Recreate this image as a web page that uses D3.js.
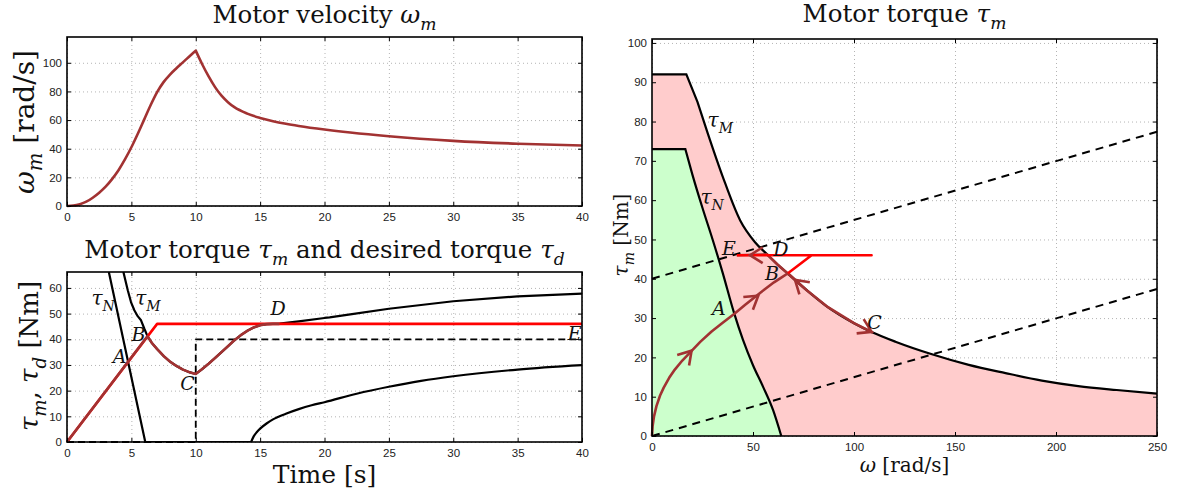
<!DOCTYPE html>
<html>
<head>
<meta charset="utf-8">
<script src="https://cdn.jsdelivr.net/npm/d3@7"></script>
<style>
body { margin: 0; background: #fff; }
svg { display: block; }
</style>
</head>
<body>
<svg id="fig" width="1178" height="498"></svg>
<script>
// ---- data ----
// top left: motor velocity vs time
const velT = [0, 0.5, 1, 1.5, 2, 2.5, 3, 3.5, 4, 4.5, 5, 5.5, 6, 6.5, 7, 7.5, 8, 8.5, 9, 9.5, 10,
  10.5, 11, 11.5, 12, 12.5, 13, 14, 15, 16, 17, 18, 20, 22, 25, 30, 35, 40];
const velW = [0, 0.3, 1.3, 3, 5.8, 9.3, 13.5, 18.8, 25, 32.5, 41, 50.5, 60.5, 70.5, 79.5, 86.5, 91.8, 96.2, 100.3, 104.4, 108.5,
  99, 90.5, 83, 77, 72.5, 69, 64.5, 61.5, 59.2, 57.4, 55.9, 53.4, 51.3, 48.7, 45.5, 43.5, 42.2];

// bottom left: torques vs time
const tdT = [0, 7, 40];
const tdV = [0, 46, 46];
const tmT = [0, 6.25, 6.6, 7, 7.5, 8, 8.5, 9, 9.5, 10, 10.5, 11, 11.5, 12, 12.5, 13, 13.5, 14, 14.5, 15, 15.5, 16, 16.5];
const tmV = [0, 41.2, 38.5, 36.2, 33.5, 31.3, 29.6, 28.2, 27.2, 26.5, 28.4, 30.5, 32.7, 35, 37.3, 39.6, 41.6, 43.3, 44.6, 45.5, 45.9, 46, 46];
const tauMaxT = [4.38, 4.72, 4.97, 5.23, 5.49, 5.75, 6.0, 6.25, 6.6, 7, 7.5, 8, 8.5, 9, 9.5, 10, 10.5, 11, 11.5, 12, 12.5, 13, 13.5, 14, 14.5, 15, 15.5, 16, 16.5, 18, 20, 20.4, 22, 25, 30, 35, 40];
const tauMaxV = [66.2, 59.1, 54.5, 51.3, 49, 47.4, 44.2, 41.2, 38.5, 36.2, 33.5, 31.3, 29.6, 28.2, 27.2, 26.5, 28.4, 30.5, 32.7, 35, 37.3, 39.6, 41.6, 43.3, 44.6, 45.5, 45.9, 46, 46.1, 47, 48.3, 48.5, 49.7, 51.9, 54.8, 56.7, 57.8];
const tauNomT = [3.25, 6.08, 14.3, 14.5, 14.75, 15, 15.5, 16, 17, 18, 19, 20, 22.5, 25, 27.5, 30, 35, 40];
const tauNomV = [66.2, 0, 0, 2.2, 3.9, 5.2, 7.2, 8.8, 11, 12.8, 14.3, 15.5, 18.8, 21.5, 23.8, 25.6, 28.2, 29.9];
const loadT = [0, 10, 10, 40];
const loadV = [0, 0, 40, 40];
const ptLabels = ["A", "B", "C", "D", "E"];
const ptLabelT = [3.55, 5.0, 8.8, 15.8, 38.9];
const ptLabelV = [30.8, 39.3, 20.3, 49.5, 39.7];

// right: torque vs speed plane
const maxW = [0, 17, 22.5, 27.6, 35, 43.6, 51, 57, 62, 67.5, 76.6, 86.5, 100, 109, 120.5, 138.6, 156.8, 175, 193, 211, 230, 250];
const maxV = [92, 92, 85, 77, 66, 54.9, 49.3, 46.2, 43.7, 41.2, 37.1, 33, 28.7, 26.4, 24, 20.8, 18.1, 16, 14.1, 12.7, 11.7, 10.8];
const nomW = [0, 16.5, 20, 25, 30, 35, 40.5, 45, 50, 55, 60, 64];
const nomV = [73, 73, 66.5, 58, 50, 41.5, 31.5, 24.5, 18, 12.5, 6.5, 0];
const trajW = [0, 0.3, 1, 2.2, 4, 5.8, 8.5, 11.3, 15, 19.5, 24, 29.5, 35, 40.8, 46, 51.3, 56, 60.4, 64, 67.3,
  76.6, 86.5, 100, 109, 100, 86.5, 76.6, 67.5, 62, 57, 42];
const trajV = [0, 2.5, 5, 7.6, 10.3, 12.3, 14.8, 16.9, 19.2, 21.6, 24, 26.6, 28.8, 31.1, 33.3, 35.5, 37.4, 39.1, 40.3, 41.4,
  37.1, 33, 28.7, 26.4, 28.7, 33, 37.1, 41.2, 43.7, 46.2, 46];
const desW = [67.3, 79, 108.7, 42];
const desV = [41.4, 46, 46, 46];
const dashAW = [0, 250], dashAV = [40, 77.4];
const dashBW = [0, 250], dashBV = [0, 37.4];
// arrow heads: tail -> tip
const arrTailW = [11.3, 40.8, 76.6, 100, 57];
const arrTailV = [16.9, 31.1, 37.1, 28.7, 46];
const arrTipW = [19.6, 52.6, 70.8, 108.7, 48.5];
const arrTipV = [21.7, 35.7, 39.7, 26.5, 46];
const rLabelW = [29.7, 56, 106.5, 60, 34.7];
const rLabelV = [30.8, 39.7, 27.3, 45.8, 46];

const brown = "#a23232";
const serif = "'DejaVu Serif', serif";
const sans = "'Liberation Sans', Arial, sans-serif";
const fig = d3.select("#fig");

// text with italic math parts and subscripts
function rich(sel, parts, size) {
  let shift = 0;
  parts.forEach(function (p) {
    const t = sel.append("tspan").text(p[0]);
    let target = 0;
    if (p[1] === "it") t.attr("font-style", "italic");
    if (p[1] === "sub") {
      t.attr("font-style", "italic").attr("font-size", size * 0.7);
      target = size * 0.3;
    }
    if (shift !== target) t.attr("dy", target - shift);
    shift = target;
  });
  return sel;
}

function makeAxes(box, xDom, yDom, xTicks, yTicks) {
  const x = d3.scaleLinear().domain(xDom).range([box.l, box.r]);
  const y = d3.scaleLinear().domain(yDom).range([box.b, box.t]);
  const g = fig.append("g");
  // dotted grid
  g.append("g").attr("transform", "translate(0," + box.b + ")")
    .call(d3.axisBottom(x).tickValues(xTicks).tickSize(-(box.b - box.t)).tickFormat(""))
    .call(s => s.select(".domain").remove())
    .selectAll("line").attr("stroke", "#b4b4b4").attr("stroke-dasharray", "1,3");
  g.append("g").attr("transform", "translate(" + box.l + ",0)")
    .call(d3.axisLeft(y).tickValues(yTicks).tickSize(-(box.r - box.l)).tickFormat(""))
    .call(s => s.select(".domain").remove())
    .selectAll("line").attr("stroke", "#b4b4b4").attr("stroke-dasharray", "1,3");
  return { x: x, y: y, g: g, box: box, xTicks: xTicks, yTicks: yTicks };
}

function finishAxes(ax) {
  const b = ax.box, g = ax.g.append("g");
  g.append("g").attr("transform", "translate(0," + b.b + ")")
    .call(d3.axisBottom(ax.x).tickValues(ax.xTicks).tickSize(-4).tickPadding(7).tickSizeOuter(0));
  g.append("g").attr("transform", "translate(" + b.l + ",0)")
    .call(d3.axisLeft(ax.y).tickValues(ax.yTicks).tickSize(-4).tickPadding(5).tickSizeOuter(0));
  g.append("g").attr("transform", "translate(0," + b.t + ")")
    .call(d3.axisTop(ax.x).tickValues(ax.xTicks).tickSize(-4).tickFormat("").tickSizeOuter(0));
  g.append("g").attr("transform", "translate(" + b.r + ",0)")
    .call(d3.axisRight(ax.y).tickValues(ax.yTicks).tickSize(-4).tickFormat("").tickSizeOuter(0));
  g.selectAll(".domain").remove();
  g.selectAll(".tick line").attr("stroke", "#000");
  g.selectAll(".tick text").attr("font-family", sans).attr("font-size", 11.5).attr("fill", "#222");
  g.append("rect").attr("x", b.l).attr("y", b.t).attr("width", b.r - b.l).attr("height", b.b - b.t)
    .attr("fill", "none").attr("stroke", "#000").attr("stroke-width", 1.6);
}

// path through the points, with a different curve type between cut indices
function pieceD(ax, xs, ys, cuts, kinds) {
  const bounds = [0].concat(cuts, [xs.length - 1]);
  let d = "";
  for (let k = 0; k < bounds.length - 1; k++) {
    const pts = d3.range(bounds[k], bounds[k + 1] + 1).map(i => [ax.x(xs[i]), ax.y(ys[i])]);
    const s = d3.line().curve(kinds[k])(pts);
    d += k === 0 ? s : "L" + s.slice(1);
  }
  return d;
}

function curve(ax, xs, ys, color, width, dash, cuts, kinds) {
  const d = pieceD(ax, xs, ys, cuts || [], kinds || [d3.curveLinear]);
  const p = ax.g.append("path").attr("d", d)
    .attr("fill", "none").attr("stroke", color).attr("stroke-width", width)
    .attr("stroke-linejoin", "round").attr("stroke-linecap", "butt");
  if (dash) p.attr("stroke-dasharray", dash);
  return p;
}

function mathLabel(ax, xv, yv, parts, size) {
  return rich(ax.g.append("text").attr("x", ax.x(xv)).attr("y", ax.y(yv))
    .attr("font-family", serif).attr("font-size", size).attr("fill", "#111"), parts, size);
}

// ---- top left: velocity ----
const axV = makeAxes({ l: 67, r: 582, t: 37, b: 206 }, [0, 40], [0, 118],
  d3.range(0, 41, 5), d3.range(0, 101, 20));
curve(axV, velT, velW, brown, 2.6, null, [d3.maxIndex(velW)], [d3.curveMonotoneX, d3.curveMonotoneX]);
finishAxes(axV);

// ---- bottom left: torques vs time ----
const axT = makeAxes({ l: 67, r: 582, t: 272, b: 442 }, [0, 40], [0, 66.2],
  d3.range(0, 41, 5), d3.range(0, 61, 10));
fig.append("clipPath").attr("id", "clipT").append("rect")
  .attr("x", 67).attr("y", 272).attr("width", 515).attr("height", 170);
curve(axT, loadT, loadV, "#000", 1.8, "7,4");
curve(axT, tauNomT, tauNomV, "#000", 2.2, null, [1, 2], [d3.curveLinear, d3.curveLinear, d3.curveMonotoneX])
  .attr("clip-path", "url(#clipT)");
curve(axT, tauMaxT, tauMaxV, "#000", 2.2).attr("clip-path", "url(#clipT)");
curve(axT, tdT, tdV, "#ff0000", 2.6);
curve(axT, tmT, tmV, brown, 2.6);
mathLabel(axT, 1.9, 53.5, [["τ", "it"], ["N", "sub"]], 20);
mathLabel(axT, 5.3, 53.5, [["τ", "it"], ["M", "sub"]], 20);
ptLabels.forEach((s, i) => mathLabel(axT, ptLabelT[i], ptLabelV[i], [[s, "it"]], 19));
finishAxes(axT);

// ---- right: torque vs speed ----
const axR = makeAxes({ l: 652, r: 1157, t: 39, b: 436 }, [0, 250], [0, 101],
  d3.range(0, 251, 50), d3.range(0, 101, 10));
const maxD = pieceD(axR, maxW, maxV, [2], [d3.curveLinear, d3.curveMonotoneX]);
const nomD = pieceD(axR, nomW, nomV, [1], [d3.curveLinear, d3.curveMonotoneX]);
const close = (w) => "L" + axR.x(w) + "," + axR.y(0) + "L" + axR.x(0) + "," + axR.y(0) + "Z";
axR.g.append("path").attr("d", maxD + close(maxW[maxW.length - 1])).attr("fill", "#ffcccc");
axR.g.append("path").attr("d", nomD + close(nomW[nomW.length - 1])).attr("fill", "#ccffcc");
axR.g.append("path").attr("d", maxD).attr("fill", "none").attr("stroke", "#000").attr("stroke-width", 2.2);
axR.g.append("path").attr("d", nomD).attr("fill", "none").attr("stroke", "#000").attr("stroke-width", 2.2);
curve(axR, dashAW, dashAV, "#000", 2, "8,6");
curve(axR, dashBW, dashBV, "#000", 2, "8,6");
curve(axR, trajW, trajV, brown, 2.6);
curve(axR, desW, desV, "#ff0000", 2.6);
arrTipW.forEach(function (w, i) {
  const tx = axR.x(w), ty = axR.y(arrTipV[i]);
  const a = Math.atan2(ty - axR.y(arrTailV[i]), tx - axR.x(arrTailW[i]));
  const L = 15, phi = 32 * Math.PI / 180;
  const p1 = [tx - L * Math.cos(a - phi), ty - L * Math.sin(a - phi)];
  const p2 = [tx - L * Math.cos(a + phi), ty - L * Math.sin(a + phi)];
  axR.g.append("path").attr("d", "M" + p1 + "L" + tx + "," + ty + "L" + p2)
    .attr("fill", "none").attr("stroke", brown).attr("stroke-width", 2.6);
});
mathLabel(axR, 27.5, 78.5, [["τ", "it"], ["M", "sub"]], 20);
mathLabel(axR, 24, 59, [["τ", "it"], ["N", "sub"]], 20);
ptLabels.forEach((s, i) => mathLabel(axR, rLabelW[i], rLabelV[i], [[s, "it"]], 19));
finishAxes(axR);

// ---- titles and axis labels ----
function title(x, y, parts, size, rot) {
  const t = fig.append("text").attr("font-family", serif).attr("font-size", size)
    .attr("text-anchor", "middle").attr("fill", "#111");
  if (rot) t.attr("transform", "translate(" + x + "," + y + ") rotate(-90)");
  else t.attr("x", x).attr("y", y);
  return rich(t, parts, size);
}
title(324.5, 23, [["Motor velocity "], ["ω", "it"], ["m", "sub"]], 24.5);
title(324.5, 258, [["Motor torque "], ["τ", "it"], ["m", "sub"], [" and desired torque "], ["τ", "it"], ["d", "sub"]], 24.5);
title(904.5, 22, [["Motor torque "], ["τ", "it"], ["m", "sub"]], 24.5);
title(34, 122, [["ω", "it"], ["m", "sub"], [" [rad/s]"]], 28, true);
title(38, 356, [["τ", "it"], ["m", "sub"], [", "], ["τ", "it"], ["d", "sub"], [" [Nm]"]], 26, true);
title(324.5, 483, [["Time [s]"]], 25);
title(628, 235, [["τ", "it"], ["m", "sub"], [" [Nm]"]], 20, true);
title(904.5, 472, [["ω", "it"], [" [rad/s]"]], 20);
</script>
</body>
</html>
